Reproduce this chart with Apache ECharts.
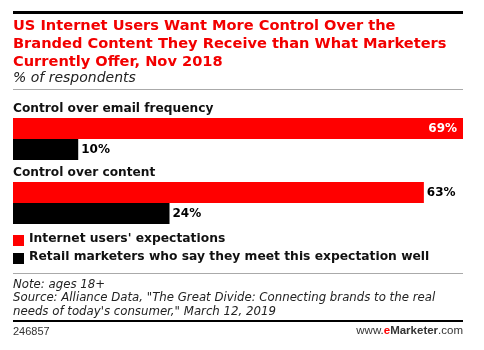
<!DOCTYPE html>
<html>
<head>
<meta charset="utf-8">
<script src="https://cdn.jsdelivr.net/npm/echarts@6/dist/echarts.min.js"></script>
<style>
  html, body { margin: 0; padding: 0; background: #fff; }
  #chart { width: 484px; height: 350px; }
</style>
</head>
<body>
<div id="chart"></div>
<script>
var categories = ['Control over email frequency', 'Control over content']
var seriesNames = ["Internet users' expectations", 'Retail marketers who say they meet this expectation well']
var usersValues = [69, 63]
var marketersValues = [10, 24]

var FONT = 'DejaVu Sans'
var RED = '#ff0000'

var chart = echarts.init(document.getElementById('chart'))

function barData (values) {
  var max = Math.max.apply(null, usersValues.concat(marketersValues))
  return values.map(function (v) {
    var inside = v === max
    return {
      value: v,
      label: {
        position: inside ? 'insideRight' : 'right',
        distance: inside ? 6 : 3,
        color: inside ? '#fff' : '#000'
      }
    }
  })
}

function render () {
  chart.setOption({
    animation: false,
    grid: { left: 13, right: 21, top: 107, height: 128 },
    xAxis: { type: 'value', min: 0, max: 69, show: false },
    yAxis: {
      type: 'category',
      data: categories,
      inverse: true,
      axisLine: { show: false },
      axisTick: { show: false },
      axisLabel: { show: false }
    },
    legend: { show: false },
    series: [
      {
        name: seriesNames[0],
        type: 'bar',
        barWidth: 21,
        barGap: '0%',
        itemStyle: { color: RED },
        label: { show: true, formatter: '{c}%', fontFamily: FONT, fontWeight: 'bold', fontSize: 12 },
        data: barData(usersValues)
      },
      {
        name: seriesNames[1],
        type: 'bar',
        barWidth: 21,
        itemStyle: { color: '#000' },
        label: { show: true, formatter: '{c}%', fontFamily: FONT, fontWeight: 'bold', fontSize: 12 },
        data: barData(marketersValues)
      }
    ]
  })

  var g = [
    { type: 'rect', shape: { x: 13, y: 11, width: 450, height: 3 }, style: { fill: '#000' } },
    {
      type: 'text', left: 13, top: 17,
      style: {
        text: 'US Internet Users Want More Control Over the\nBranded Content They Receive than What Marketers\nCurrently Offer, Nov 2018',
        fill: '#f20000', font: 'bold 14.6px ' + FONT, lineHeight: 18
      }
    },
    {
      type: 'text', left: 13, top: 71,
      style: { text: '% of respondents', fill: '#222', font: 'oblique 14px ' + FONT }
    },
    { type: 'rect', shape: { x: 13, y: 89, width: 450, height: 1 }, style: { fill: '#aaa' } },
    // legend
    { type: 'rect', shape: { x: 13, y: 235, width: 11, height: 11 }, style: { fill: RED } },
    { type: 'text', left: 29, top: 233, style: { text: seriesNames[0], fill: '#111', font: 'bold 12.3px ' + FONT } },
    { type: 'rect', shape: { x: 13, y: 253, width: 11, height: 11 }, style: { fill: '#000' } },
    { type: 'text', left: 29, top: 251, style: { text: seriesNames[1], fill: '#111', font: 'bold 12.3px ' + FONT } },
    { type: 'rect', shape: { x: 13, y: 273, width: 450, height: 1 }, style: { fill: '#aaa' } },
    {
      type: 'text', left: 13, top: 278,
      style: {
        text: 'Note: ages 18+\nSource: Alliance Data, "The Great Divide: Connecting brands to the real\nneeds of today\'s consumer," March 12, 2019',
        fill: '#222', font: 'oblique 11.75px ' + FONT, lineHeight: 13.5
      }
    },
    { type: 'rect', shape: { x: 13, y: 320, width: 450, height: 2 }, style: { fill: '#000' } },
    { type: 'text', left: 13, top: 326, style: { text: '246857', fill: '#333', font: '11px Liberation Sans' } },
    {
      type: 'text', right: 21, top: 325,
      style: {
        text: '{a|www.}{b|e}{c|Marketer}{a|.com}',
        rich: {
          a: { fill: '#333', font: '11.5px Liberation Sans' },
          b: { fill: RED, font: 'bold 11.5px Liberation Sans' },
          c: { fill: '#333', font: 'bold 11.5px Liberation Sans' }
        }
      }
    }
  ]

  categories.forEach(function (name) {
    var y = chart.convertToPixel({ yAxisIndex: 0 }, name)
    g.push({
      type: 'text', left: 13, top: y - 36,
      style: { text: name, fill: '#111', font: 'bold 12.2px ' + FONT }
    })
  })

  chart.setOption({ graphic: g })
}

render()
</script>
</body>
</html>
